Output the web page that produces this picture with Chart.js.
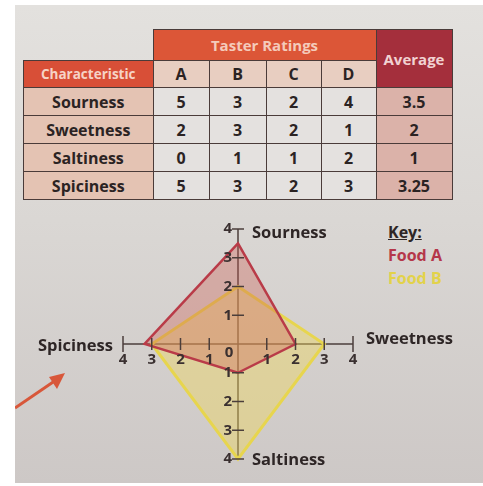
<!DOCTYPE html>
<html>
<head>
<meta charset="utf-8">
<script src="https://cdn.jsdelivr.net/npm/chart.js@4.4.1/dist/chart.umd.min.js"></script>
<style>
  html, body { margin: 0; padding: 0; background: #fff; width: 483px; height: 486px; overflow: hidden; }
  #page { position: absolute; left: 15px; top: 5px; width: 468px; height: 478px;
          background: linear-gradient(180deg, #e3e1de 0%, #dad7d4 45%, #cdc8c6 100%); }
  #ratings { position: absolute; left: 23px; top: 29px; border-collapse: collapse;
             font-family: "Open Sans", "DejaVu Sans", sans-serif; font-weight: 700; color: #2b2323; }
  #ratings td { border: 1.5px solid #4a3b39; text-align: center; padding: 0; font-size: 16px; }
  #ratings td.blank { border: none; background: transparent; }
  #ratings td.top { background: #dc5637; color: #f4cbbb; font-size: 15px; height: 30px; }
  #ratings td.avg-h { background: #a42f3c; color: #f1d2d2; font-size: 15px; }
  #ratings td.char-h { background: #d84f37; color: #f6d3c6; font-size: 13.5px; height: 26px; }
  #ratings td.col-h { background: #e8cec1; }
  #ratings td.name { background: #e4c3b3; height: 27px; }
  #ratings td.val { background: #e4e1df; }
  #ratings td.avg { background: #dbb2a9; }
  #key { position: absolute; left: 388px; top: 221px; font-family: "Open Sans", "DejaVu Sans", sans-serif;
         font-weight: 700; font-size: 16px; line-height: 23px; }
  #key .k { color: #2e2626; text-decoration: underline; }
  #key .a { color: #b5374a; }
  #key .b { color: #e2d24a; }
  #arrow { position: absolute; left: 15px; top: 360px; }
  #chart { position: absolute; left: 0; top: 205px; }
</style>
</head>
<body>
<div id="page"></div>
<svg id="arrow" width="60" height="60">
  <line x1="0" y1="48" x2="44" y2="18" stroke="#d8573a" stroke-width="3"/>
  <polygon points="50,13 34,17 42,29" fill="#d8573a"/>
</svg>
<table id="ratings">
  <tbody id="ratingsBody"></tbody>
</table>
<div id="key">
  <div class="k">Key:</div>
  <div class="a" id="keyA"></div>
  <div class="b" id="keyB"></div>
</div>
<canvas id="chart" width="483" height="281"></canvas>
<script>
// table data
const characteristics = ['Sourness', 'Sweetness', 'Saltiness', 'Spiciness'];
const tasters = ['A', 'B', 'C', 'D'];
const tasterA = [5, 2, 0, 5];
const tasterB = [3, 3, 1, 3];
const tasterC = [2, 2, 1, 2];
const tasterD = [4, 1, 2, 3];
const averages = ['3.5', '2', '1', '3.25'];

// chart data
const axisLabels = ['Sourness', 'Sweetness', 'Saltiness', 'Spiciness'];
const foodA = [3.5, 2, 1, 3.25];
const foodB = [2, 3, 4, 3];
const seriesNames = ['Food A', 'Food B'];
const tickValues = [1, 2, 3, 4];

document.addEventListener('DOMContentLoaded', () => {
    // 1. Table
    const cols = [tasterA, tasterB, tasterC, tasterD];
    const body = document.getElementById('ratingsBody');
    let html = `
        <tr>
            <td class="blank" style="width:129px"></td>
            <td class="top" colspan="4">Taster Ratings</td>
            <td class="avg-h" rowspan="2" style="width:75px">Average</td>
        </tr>
        <tr>
            <td class="char-h">Characteristic</td>
            ${tasters.map((t, i) => `<td class="col-h" style="width:${[55, 56, 54, 54][i]}px">${t}</td>`).join('')}
        </tr>`;
    html += characteristics.map((c, r) => `
        <tr>
            <td class="name">${c}</td>
            ${cols.map(col => `<td class="val">${col[r]}</td>`).join('')}
            <td class="avg">${averages[r]}</td>
        </tr>`).join('');
    body.innerHTML = html;

    document.getElementById('keyA').textContent = seriesNames[0];
    document.getElementById('keyB').textContent = seriesNames[1];

    // 2. Cross axes: ticks, numbers and axis names
    const axisColor = '#4b3e3b';
    const crossAxes = {
        id: 'crossAxes',
        afterDatasetsDraw(chart) {
            const r = chart.scales.r;
            const ctx = chart.ctx;
            ctx.save();
            ctx.strokeStyle = axisColor;
            ctx.lineWidth = 1.5;
            ctx.fillStyle = '#3a3030';
            ctx.font = '700 15px "Open Sans", "DejaVu Sans", sans-serif';
            chart.data.labels.forEach((lab, i) => {
                const a = r.getIndexAngle(i) - Math.PI / 2;
                const px = -Math.sin(a), py = Math.cos(a);
                const horiz = Math.abs(Math.cos(a)) > 0.5;
                tickValues.forEach(v => {
                    const p = r.getPointPositionForValue(i, v);
                    const len = (horiz && v === tickValues[tickValues.length - 1]) ? 8 : 6;
                    ctx.beginPath();
                    ctx.moveTo(p.x - px * len, p.y - py * len);
                    ctx.lineTo(p.x + px * len, p.y + py * len);
                    ctx.stroke();
                    if (horiz) {
                        ctx.textAlign = 'center';
                        ctx.textBaseline = 'middle';
                        ctx.fillText(String(v), p.x, p.y + 16);
                    } else {
                        ctx.textAlign = 'right';
                        ctx.textBaseline = 'middle';
                        ctx.fillText(String(v), p.x - 6, p.y);
                    }
                });
            });
            // origin
            ctx.textAlign = 'center';
            ctx.textBaseline = 'middle';
            ctx.fillText('0', r.xCenter - 9, r.yCenter + 9);

            // axis names
            ctx.fillStyle = '#2e2626';
            ctx.font = '700 16.5px "Open Sans", "DejaVu Sans", sans-serif';
            const top = r.getPointPositionForValue(0, 4);
            const right = r.getPointPositionForValue(1, 4);
            const bottom = r.getPointPositionForValue(2, 4);
            const left = r.getPointPositionForValue(3, 4);
            ctx.textAlign = 'left';
            ctx.fillText(chart.data.labels[0], top.x + 14, top.y + 4);
            ctx.fillText(chart.data.labels[1], right.x + 13, right.y - 5);
            ctx.fillText(chart.data.labels[2], bottom.x + 14, bottom.y + 1);
            ctx.textAlign = 'right';
            ctx.fillText(chart.data.labels[3], left.x - 10, left.y + 2);
            ctx.restore();
        }
    };

    // 3. Radar chart
    new Chart(document.getElementById('chart'), {
        type: 'radar',
        data: {
            labels: axisLabels,
            datasets: [{
                label: seriesNames[0],
                data: foodA,
                borderColor: '#b93b48',
                backgroundColor: 'rgba(205, 90, 80, 0.34)',
                borderWidth: 2.5,
                pointRadius: 0
            }, {
                label: seriesNames[1],
                data: foodB,
                borderColor: '#e7d54e',
                backgroundColor: 'rgba(238, 214, 90, 0.42)',
                borderWidth: 3,
                pointRadius: 0
            }]
        },
        options: {
            responsive: false,
            animation: false,
            layout: { padding: { left: 123, right: 130, top: 24, bottom: 27 } },
            plugins: { legend: { display: false }, tooltip: { enabled: false } },
            elements: { line: { tension: 0 } },
            scales: {
                r: {
                    min: 0,
                    max: 4,
                    ticks: { display: false, stepSize: 1 },
                    grid: { display: false },
                    angleLines: { color: axisColor, lineWidth: 1.5 },
                    pointLabels: { display: false }
                }
            }
        },
        plugins: [crossAxes]
    });
});
</script>
</body>
</html>
